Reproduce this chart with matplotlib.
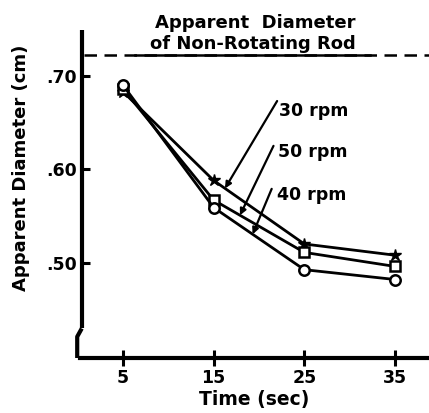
import numpy as np
import matplotlib
matplotlib.use("Agg")
import matplotlib.pyplot as plt

# data
time_s = [5, 15, 25, 35]
dia_30rpm = [0.683, 0.588, 0.520, 0.508]   # stars
dia_50rpm = [0.686, 0.567, 0.511, 0.496]   # open squares
dia_40rpm = [0.690, 0.559, 0.4925, 0.482]  # open circles
non_rotating = 0.7225

x_ticks = [5, 15, 25, 35]
y_ticks = [0.50, 0.60, 0.70]
y_tick_labels = [".50", ".60", ".70"]

plt.rcParams['font.family'] = ['DejaVu Sans']
plt.rcParams['font.weight'] = 'bold'
plt.rcParams['axes.labelweight'] = 'bold'

fig = plt.figure(figsize=(4.29, 4.13), dpi=100)
ax = fig.add_axes([80 / 429, 55 / 413, 349 / 429, 328 / 413])

lw = 2.0
ax.plot(time_s, dia_30rpm, color='black', lw=lw, marker='*', ms=9,
        mfc='black', mec='black', zorder=3)
ax.plot(time_s, dia_50rpm, color='black', lw=lw, marker='s', ms=6.5,
        mfc='white', mec='black', mew=1.8, zorder=3)
ax.plot(time_s, dia_40rpm, color='black', lw=lw, marker='o', ms=7.5,
        mfc='white', mec='black', mew=1.8, zorder=3)

# reference line for the non-rotating rod
ax.axhline(non_rotating, xmin=0.012, color='black', lw=1.8,
           dashes=(5, 3), clip_on=False)
ax.plot([6.3, 32.2], [non_rotating, non_rotating], color='black', lw=1.8,
        clip_on=False)
ax.text(19.6, 0.757, "Apparent  Diameter", ha='center', va='center',
        fontsize=13, clip_on=False)
ax.text(19.3, 0.7335, "of Non-Rotating Rod", ha='center', va='center',
        fontsize=13, clip_on=False)

# curve labels with pointers
labels = ["30 rpm", "50 rpm", "40 rpm"]
series = [dia_30rpm, dia_50rpm, dia_40rpm]
tip_x = [16.25, 17.9, 19.3]
start_x = [22.0, 21.6, 21.4]
start_y = [0.673, 0.625, 0.579]
text_x = [22.2, 22.1, 22.0]
text_y = [0.662, 0.618, 0.572]
for lab, ys, tx, sx, sy, lx, ly in zip(labels, series, tip_x, start_x,
                                       start_y, text_x, text_y):
    tip_y = np.interp(tx, time_s, ys)
    ax.annotate("", xy=(tx, tip_y), xytext=(sx, sy),
                arrowprops=dict(arrowstyle='-|>', color='black', lw=1.6,
                                mutation_scale=9, shrinkA=0, shrinkB=0))
    ax.text(lx, ly, lab, fontsize=12.5, ha='left', va='center')

ax.set_xlim(0.26, 38.75)
ax.set_ylim(0.398, 0.749)
ax.set_xticks(x_ticks)
ax.set_yticks(y_ticks)
ax.set_yticklabels(y_tick_labels)
ax.tick_params(axis='y', direction='in', length=7, width=2.2, labelsize=12.5, pad=2)
ax.tick_params(axis='x', direction='inout', length=12, width=2.2, labelsize=12.5, pad=2)

for side in ['top', 'right', 'left']:
    ax.spines[side].set_visible(False)
ax.spines['bottom'].set_linewidth(3)

# left axis drawn by hand with a small break near the bottom
tr = ax.transAxes
ax.plot([0.005, 0.005], [1.0, 0.09], transform=tr, color='black', lw=3,
        clip_on=False, solid_capstyle='butt')
ax.plot([0.005, -0.008, -0.008], [0.09, 0.065, 0.0], transform=tr,
        color='black', lw=3, clip_on=False, solid_capstyle='butt')

ax.set_xlabel("Time (sec)", fontsize=13.5, labelpad=2)
ax.set_ylabel("Apparent Diameter (cm)", fontsize=13)
ax.yaxis.set_label_coords(-0.143, 0.58)

fig.savefig("out.png", dpi=100)
